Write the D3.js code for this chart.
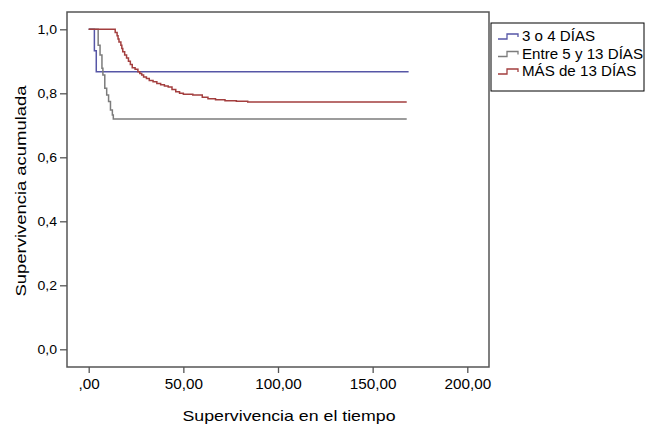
<!DOCTYPE html>
<html>
<head>
<meta charset="utf-8">
<script src="https://cdn.jsdelivr.net/npm/d3@7"></script>
<style>
  body { margin: 0; background: #fff; }
  text { font-family: "Liberation Sans", Arial, sans-serif; fill: #000; }
</style>
</head>
<body>
<script>
// series (time, cumulative survival)
var seriesNames = ["3 o 4 DÍAS", "Entre 5 y 13 DÍAS", "MÁS de 13 DÍAS"];
var seriesColors = ["#5656a6", "#7c7c7c", "#a33e3e"];

var blueTime = [0, 3, 4, 169];
var blueSurv = [1, 0.933, 0.867, 0.867];

var grayTime = [0, 5, 6, 7, 7.5, 8.5, 9.5, 10.5, 11.5, 12.5, 13, 168];
var graySurv = [1, 0.95, 0.92, 0.878, 0.857, 0.816, 0.795, 0.774, 0.748, 0.732, 0.72, 0.72];

var redTime = [0, 14, 15, 15.5, 16, 17, 17.5, 18, 19, 20, 21, 22, 23, 24.5, 26, 27, 28, 29, 30.5,
               32, 34, 36, 38, 40, 42, 44, 46, 48, 50, 55, 60, 63, 67, 72, 78, 84, 168];
var redSurv = [1, 0.99, 0.98, 0.97, 0.96, 0.95, 0.94, 0.93, 0.92, 0.91, 0.90, 0.89, 0.88, 0.875,
               0.867, 0.862, 0.857, 0.851, 0.846, 0.840, 0.836, 0.831, 0.827, 0.823, 0.820, 0.812,
               0.805, 0.800, 0.797, 0.795, 0.788, 0.783, 0.780, 0.777, 0.775, 0.773, 0.773];

var xTicks = [0, 50, 100, 150, 200];
var yTicks = [0, 0.2, 0.4, 0.6, 0.8, 1.0];

var screen = {width: 645, height: 426};
var frame = {left: 67, right: 489, top: 12, bottom: 367};

var svg = d3.select("body")
            .append("svg")
            .attr("width", screen.width)
            .attr("height", screen.height);

var x = d3.scaleLinear().domain([0, 200]).range([88.7, 467.3]);
var y = d3.scaleLinear().domain([0, 1]).range([349.3, 29.3]);

var es = d3.formatLocale({decimal: ",", thousands: ".", grouping: [3], currency: ["", "€"]});
var f2 = es.format(".2f");
var f1 = es.format(".1f");

// the picture's text is a bit wider than it is tall, so widen glyphs a little
var stretch = function(sel, factor) {
  sel.each(function() {
    var w = this.getComputedTextLength();
    d3.select(this).attr("textLength", w * factor).attr("lengthAdjust", "spacingAndGlyphs");
  });
}

// plot frame
svg.append("rect")
   .attr("x", frame.left)
   .attr("y", frame.top)
   .attr("width", frame.right - frame.left)
   .attr("height", frame.bottom - frame.top)
   .attr("fill", "none")
   .attr("stroke", "#555")
   .attr("stroke-width", 1.5);

var xAxis = d3.axisBottom(x)
              .tickValues(xTicks)
              .tickSize(6)
              .tickPadding(6)
              .tickFormat(function(d) { var s = f2(d); return s.indexOf("0,") == 0 ? s.slice(1) : s; });

var gx = svg.append("g")
            .attr("transform", "translate(0," + frame.bottom + ")")
            .call(xAxis);

var yAxis = d3.axisLeft(y)
              .tickValues(yTicks)
              .tickSize(7)
              .tickPadding(3)
              .tickFormat(f1);

var gy = svg.append("g")
            .attr("transform", "translate(" + frame.left + ",0)")
            .call(yAxis);

[gx, gy].forEach(function(g) {
  g.select(".domain").remove();
  g.selectAll(".tick line").attr("stroke", "#555").attr("stroke-width", 1.3);
  g.selectAll(".tick text").attr("fill", "#000")
   .attr("font-family", "Liberation Sans, Arial, sans-serif");
});
gx.selectAll(".tick text").attr("font-size", "14px");
gy.selectAll(".tick text").attr("font-size", "13.5px");
stretch(gx.selectAll(".tick text"), 1.09);
stretch(gy.selectAll(".tick text"), 1.04);

// axis titles
svg.append("text")
   .attr("x", 289)
   .attr("y", 420.5)
   .attr("text-anchor", "middle")
   .attr("font-size", "15px")
   .attr("textLength", 213)
   .attr("lengthAdjust", "spacingAndGlyphs")
   .text("Supervivencia en el tiempo");

svg.append("text")
   .attr("transform", "translate(25.5,191) rotate(-90)")
   .attr("text-anchor", "middle")
   .attr("font-size", "15.5px")
   .attr("textLength", 211)
   .attr("lengthAdjust", "spacingAndGlyphs")
   .text("Supervivencia acumulada");

// survival curves
var series = [
  d3.zip(blueTime, blueSurv),
  d3.zip(grayTime, graySurv),
  d3.zip(redTime, redSurv)
];

var line = d3.line()
             .x(function(d) { return x(d[0]); })
             .y(function(d) { return y(d[1]); })
             .curve(d3.curveStepAfter);

svg.append("g")
   .selectAll("path")
   .data(series)
   .enter()
   .append("path")
   .attr("d", line)
   .attr("fill", "none")
   .attr("stroke", function(d, i) { return seriesColors[i]; })
   .attr("stroke-width", 1.5);

// legend
var legend = svg.append("g");

legend.append("rect")
      .attr("x", 491)
      .attr("y", 23)
      .attr("width", 153)
      .attr("height", 68)
      .attr("fill", "#fff")
      .attr("stroke", "#000")
      .attr("stroke-width", 1);

var items = legend.selectAll("g.item")
                  .data(seriesNames)
                  .enter()
                  .append("g")
                  .attr("class", "item")
                  .attr("transform", function(d, i) { return "translate(0," + (36 + i * 17.5) + ")"; });

items.append("path")
     .attr("d", "M498,3H507V-2H518V1")
     .attr("fill", "none")
     .attr("stroke", function(d, i) { return seriesColors[i]; })
     .attr("stroke-width", 1.3);

var legendText = items.append("text")
     .attr("x", 522)
     .attr("y", 5)
     .attr("font-size", "14px")
     .text(function(d) { return d; });
stretch(legendText, 1.08);
</script>
</body>
</html>
